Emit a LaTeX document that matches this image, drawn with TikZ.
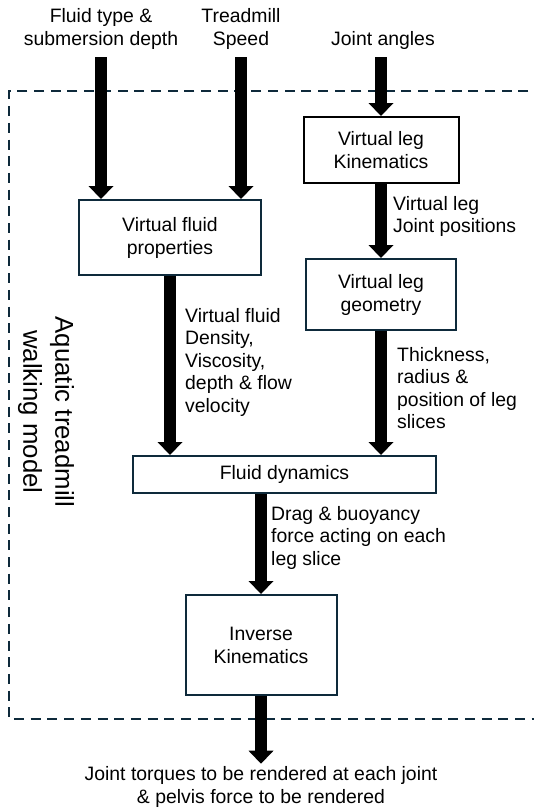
\documentclass[tikz,border=0pt]{standalone}
\usepackage{fontspec}
\setmainfont{Liberation Sans}
\usetikzlibrary{arrows.meta}
\definecolor{navy}{HTML}{0E2A3B}
\tikzstyle{process} = [
    rectangle,
    draw=navy,
    line width=2pt,
    fill=white,
    align=center,
    inner sep=0pt,
    font=\fontsize{19.4}{23}\selectfont
]
\tikzstyle{textlabel} = [
    align=left,
    inner sep=0pt,
    font=\fontsize{19.4}{22.5}\selectfont
]
\tikzstyle{frame} = [
    draw=navy,
    line width=2pt,
    dash pattern=on 10pt off 6.7pt
]
\tikzstyle{arrow} = [line width=12pt,-{Triangle[width=25pt,length=13pt,line width=0pt]}]

\begin{document}
\begin{tikzpicture}[x=1pt,y=-1pt]
\useasboundingbox (0,0) rectangle (534,812);

% model boundary
\draw [frame] (545,91) -- (9,91) -- (9,719) -- (545,719);

\node (modelname) [font=\fontsize{25.8}{32}\selectfont, align=center, rotate=-90] at (46,412)
{Aquatic treadmill\\walking model};

% inputs
\node (fluidin) [textlabel, align=center] at (101,29) {Fluid type \&\\submersion depth};
\node (speedin) [textlabel, align=center] at (241,29) {Treadmill\\Speed};
\node (anglesin) [textlabel] at (383,40) {Joint angles};
\coordinate (fluidtop) at (101,57);
\coordinate (speedtop) at (241,57);
\coordinate (anglestop) at (381,57);

% blocks
\node (legkin) [process, draw=black, minimum width=155pt, minimum height=66pt] at (381,150)
{Virtual leg\\Kinematics};
\node (fluidprop) [process, minimum width=182pt, minimum height=75pt] at (170,237.5)
{Virtual fluid\\properties};
\node (leggeom) [process, minimum width=150pt, minimum height=71pt] at (381,294.5)
{Virtual leg\\geometry};
\node (fluiddyn) [process, minimum width=303pt, minimum height=37pt] at (284.5,474.5)
{Fluid dynamics};
\node (invkin) [process, minimum width=151pt, minimum height=100pt] at (261,645)
{Inverse\\Kinematics};

% output
\node (output) [textlabel, align=center, outer sep=3pt] at (261,787)
{Joint torques to be rendered at each joint\\\& pelvis force to be rendered};

% arrow labels
\node (jointpos) [textlabel, anchor=west] at (393,216.5) {Virtual leg\\Joint positions};
\node (fluidvals) [textlabel, anchor=west] at (185,362) {Virtual fluid\\Density,\\Viscosity,\\depth \& flow\\velocity};
\node (slicevals) [textlabel, anchor=west] at (397,388) {Thickness,\\radius \&\\position of leg\\slices};
\node (forces) [textlabel, anchor=west] at (271,537.5) {Drag \& buoyancy\\force acting on each\\leg slice};

% arrows
\draw [arrow] (fluidtop) -- (fluidtop |- fluidprop.north);
\draw [arrow] (speedtop) -- (speedtop |- fluidprop.north);
\draw [arrow] (anglestop) -- (legkin);
\draw [arrow] (legkin) -- (leggeom);
\draw [arrow] (fluidprop.south) -- (fluidprop.south |- fluiddyn.north);
\draw [arrow] (leggeom.south) -- (leggeom.south |- fluiddyn.north);
\draw [arrow] (invkin.north |- fluiddyn.south) -- (invkin.north);
\draw [arrow] (invkin) -- (output);

\end{tikzpicture}
\end{document}
